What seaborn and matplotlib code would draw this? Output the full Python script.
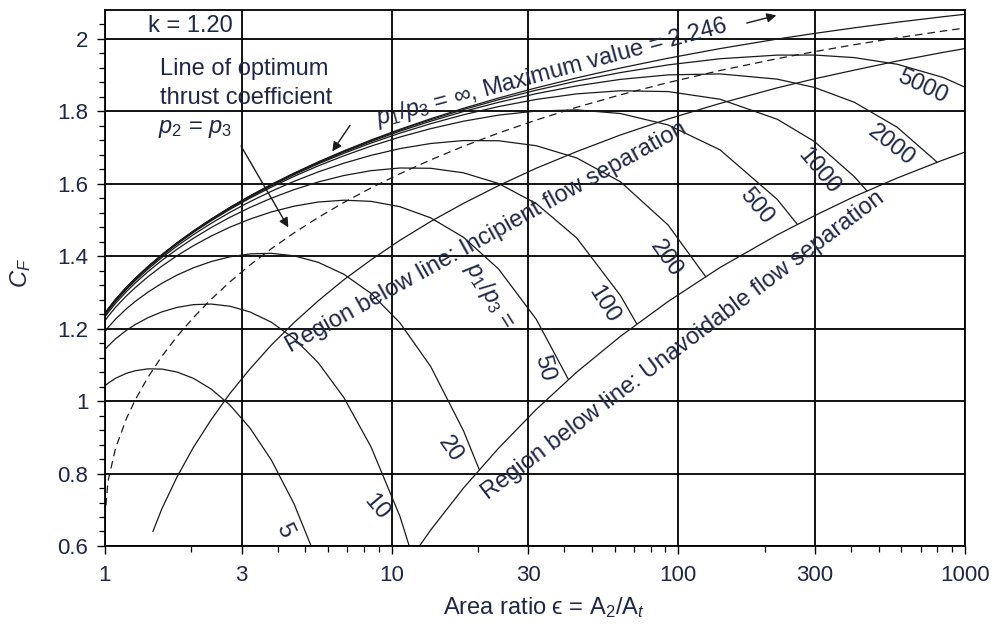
import numpy as np
import pandas as pd
import matplotlib
matplotlib.use("Agg")
import matplotlib.pyplot as plt
import seaborn as sns
from matplotlib.ticker import FixedLocator, NullFormatter

# ---------------- data (k = 1.20) ----------------
eps_grid = [1.000, 1.024, 1.089, 1.190, 1.278, 1.412, 1.578, 1.782, 2.034, 2.344,
            2.727, 3.206, 3.807, 4.569, 5.545, 6.811, 8.472, 10.685, 13.680, 17.805,
            23.602, 31.932, 44.211, 62.843, 92.081, 139.79, 221.36, 298.65, 411.30,
            579.93, 840.07, 1094.1]

cf_inf = [1.2419, 1.2538, 1.2810, 1.3150, 1.3396, 1.3715, 1.4041, 1.4369, 1.4698, 1.5024,
          1.5348, 1.5668, 1.5985, 1.6297, 1.6606, 1.6910, 1.7210, 1.7506, 1.7797, 1.8085,
          1.8369, 1.8649, 1.8926, 1.9198, 1.9468, 1.9734, 1.9997, 2.0153, 2.0308, 2.0462,
          2.0615, 2.0716]

cf_opt = [0.6774, 0.7782, 0.8701, 0.9531, 1.0047, 1.0657, 1.1233, 1.1781, 1.2305, 1.2808,
          1.3291, 1.3758, 1.4209, 1.4646, 1.5071, 1.5484, 1.5886, 1.6278, 1.6661, 1.7036,
          1.7402, 1.7761, 1.8113, 1.8458, 1.8796, 1.9129, 1.9456, 1.9650, 1.9842, 2.0031,
          2.0219, 2.0344]

incip_eps = [1.47, 1.578, 1.782, 2.034, 2.344, 2.727, 3.206, 3.807, 4.569, 5.545, 6.811,
             8.472, 10.685, 13.680, 17.805, 23.602, 31.932, 44.211, 62.843, 92.081, 139.79,
             221.36, 298.65, 411.30, 579.93, 840.07, 1094.1]
incip_cf = [0.640, 0.702, 0.790, 0.872, 0.948, 1.021, 1.089, 1.155, 1.217, 1.277, 1.335,
            1.390, 1.444, 1.496, 1.546, 1.595, 1.643, 1.689, 1.735, 1.779, 1.822,
            1.865, 1.890, 1.914, 1.939, 1.963, 1.979]

unavoid_eps = [10.685, 13.680, 17.805, 23.602, 31.932, 44.211, 62.843, 92.081, 139.79,
               221.36, 298.65, 411.30, 579.93, 840.07, 1094.1]
unavoid_cf = [0.523, 0.644, 0.760, 0.870, 0.977, 1.080, 1.179, 1.275, 1.369,
              1.459, 1.512, 1.565, 1.616, 1.666, 1.699]

ratios = [5, 10, 20, 50, 100, 200, 500, 1000, 2000, 5000]
cf_p5 = [1.0419, 1.0490, 1.0632, 1.0770, 1.0840, 1.0891, 1.0885, 1.0805, 1.0630, 1.0336,
         0.9894, 0.9256, 0.8371, 0.7159, 0.5516]
cf_p10 = [1.1419, 1.1514, 1.1721, 1.1960, 1.2118, 1.2303, 1.2463, 1.2587, 1.2664, 1.2680,
          1.2621, 1.2462, 1.2178, 1.1728, 1.1061, 1.0099, 0.8738, 0.6821, 0.4117]
cf_p20 = [1.1919, 1.2026, 1.2265, 1.2555, 1.2757, 1.3009, 1.3252, 1.3478, 1.3681, 1.3852,
          1.3984, 1.4065, 1.4081, 1.4012, 1.3833, 1.3504, 1.2974, 1.2163, 1.0957, 0.9182]
cf_p50 = [1.2219, 1.2333, 1.2592, 1.2912, 1.3140, 1.3433, 1.3725, 1.4013, 1.4291, 1.4555,
          1.4803, 1.5027, 1.5224, 1.5383, 1.5497, 1.5548, 1.5516, 1.5369, 1.5061, 1.4524,
          1.3649, 1.2263]
cf_p100 = [1.2319, 1.2436, 1.2701, 1.3031, 1.3268, 1.3574, 1.3883, 1.4191, 1.4495, 1.4790,
           1.5075, 1.5347, 1.5604, 1.5840, 1.6051, 1.6229, 1.6363, 1.6437, 1.6429, 1.6304,
           1.6009, 1.5456, 1.4505, 1.2914]
cf_p200 = [1.2369, 1.2487, 1.2756, 1.3090, 1.3332, 1.3644, 1.3962, 1.4280, 1.4596, 1.4907,
           1.5212, 1.5508, 1.5795, 1.6069, 1.6329, 1.6569, 1.6786, 1.6972, 1.7113, 1.7195,
           1.7189, 1.7052, 1.6715, 1.6056, 1.4864]
cf_p500 = [1.2399, 1.2518, 1.2788, 1.3126, 1.3370, 1.3687, 1.4009, 1.4333, 1.4657, 1.4977,
           1.5293, 1.5604, 1.5909, 1.6206, 1.6495, 1.6774, 1.7041, 1.7292, 1.7523, 1.7729,
           1.7897, 1.8010, 1.8042, 1.7941, 1.7626, 1.6938, 1.5570]
cf_p1000 = [1.2409, 1.2528, 1.2799, 1.3138, 1.3383, 1.3701, 1.4025, 1.4351, 1.4678, 1.5001,
            1.5321, 1.5636, 1.5947, 1.6251, 1.6551, 1.6842, 1.7125, 1.7399, 1.7660, 1.7907,
            1.8133, 1.8330, 1.8484, 1.8570, 1.8547, 1.8336, 1.7783, 1.7166, 1.6195]
cf_p2000 = [1.2414, 1.2533, 1.2805, 1.3144, 1.3390, 1.3708, 1.4033, 1.4360, 1.4688, 1.5012,
            1.5334, 1.5652, 1.5966, 1.6274, 1.6578, 1.6876, 1.7168, 1.7453, 1.7729, 1.7996,
            1.8251, 1.8489, 1.8705, 1.8884, 1.9008, 1.9035, 1.8890, 1.8660, 1.8251, 1.7562]
cf_p5000 = [1.2417, 1.2536, 1.2808, 1.3148, 1.3393, 1.3712, 1.4038, 1.4365, 1.4694, 1.5019,
            1.5343, 1.5662, 1.5977, 1.6288, 1.6595, 1.6896, 1.7193, 1.7485, 1.7770, 1.8049,
            1.8322, 1.8585, 1.8838, 1.9072, 1.9284, 1.9454, 1.9554, 1.9556, 1.9485, 1.9302,
            1.8935, 1.8528]
# end points where each curve meets the "unavoidable separation" line
end_eps = [None, None, 20.218, 41.370, 71.593, 124.47, 259.97, 455.35, 799.46, None]
end_cf = [None, None, 0.8107, 1.0597, 1.2134, 1.3439, 1.4882, 1.5801, 1.6598, None]

ratio_labels = ["5", "10", "20", "50", "100", "200", "500", "1000", "2000", "5000"]
label_eps = [4.24, 8.87, 15.96, 34.1, 55.1, 90.7, 186.5, 309.0, 553.0, 708.0]
label_cf = [0.644, 0.708, 0.868, 1.092, 1.268, 1.393, 1.539, 1.636, 1.705, 1.868]
label_rot = [-65, -50, -55, -75, -58, -55, -50, -50, -38, -25]

x_ticks = [1, 3, 10, 30, 100, 300, 1000]
x_ticklabels = ["1", "3", "10", "30", "100", "300", "1000"]
y_ticks = [0.6, 0.8, 1.0, 1.2, 1.4, 1.6, 1.8, 2.0]
y_ticklabels = ["0.6", "0.8", "1", "1.2", "1.4", "1.6", "1.8", "2"]

# ---------------- build long table ----------------
family_vals = [cf_p5, cf_p10, cf_p20, cf_p50, cf_p100, cf_p200, cf_p500, cf_p1000,
               cf_p2000, cf_p5000]
rows = []
for r, vals, ee, ec in zip(ratios, family_vals, end_eps, end_cf):
    xs = list(eps_grid[:len(vals)])
    ys = list(vals)
    if ee is not None:
        xs.append(ee)
        ys.append(ec)
    rows.append(pd.DataFrame({"eps": xs, "cf": ys, "curve": f"p{r}"}))
rows.append(pd.DataFrame({"eps": eps_grid, "cf": cf_inf, "curve": "inf"}))
rows.append(pd.DataFrame({"eps": incip_eps, "cf": incip_cf, "curve": "incip"}))
rows.append(pd.DataFrame({"eps": unavoid_eps, "cf": unavoid_cf, "curve": "unavoid"}))
df = pd.concat(rows, ignore_index=True)
df_opt = pd.DataFrame({"eps": eps_grid, "cf": cf_opt})

# ---------------- style ----------------
sns.set_style("ticks")
plt.rcParams["font.family"] = ["Liberation Sans", "DejaVu Sans"]
plt.rcParams["mathtext.fontset"] = "custom"
plt.rcParams["mathtext.rm"] = "Liberation Sans"
plt.rcParams["mathtext.it"] = "Liberation Sans:italic"
plt.rcParams["mathtext.bf"] = "Liberation Sans:bold"
TXT = "#1f2746"
LINE = "#1a1a1a"

fig = plt.figure(figsize=(9.92, 6.28), dpi=100)
ax = fig.add_axes([0.1058, 0.1306, 0.867, 0.8535])
ax.set_xscale("log")

sns.lineplot(data=df, x="eps", y="cf", units="curve", estimator=None, sort=False,
             color=LINE, linewidth=0.9, ax=ax, legend=False)
sns.lineplot(data=df_opt, x="eps", y="cf", estimator=None, sort=False,
             color=LINE, linewidth=0.9, linestyle=(0, (6, 4)), ax=ax, legend=False)

ax.set_xlim(1, 1000)
ax.set_ylim(0.6, 2.08)

ax.xaxis.set_major_locator(FixedLocator(x_ticks))
ax.set_xticklabels(x_ticklabels)
minor_x = [m * d for d in (1, 10, 100) for m in (2, 4, 5, 6, 7, 8, 9)]
ax.xaxis.set_minor_locator(FixedLocator(minor_x))
ax.xaxis.set_minor_formatter(NullFormatter())
ax.yaxis.set_major_locator(FixedLocator(y_ticks))
ax.set_yticklabels(y_ticklabels)
ax.yaxis.set_minor_locator(FixedLocator(list(np.arange(0.64, 2.08, 0.04))))

ax.tick_params(which="major", direction="out", length=6, width=1.0, colors="black",
               labelcolor=TXT, labelsize=16, pad=6)
ax.tick_params(axis="x", which="major", pad=8)
ax.tick_params(which="minor", direction="out", length=4, width=0.9, colors="black")
ax.grid(True, which="major", color="black", linewidth=1.3)
ax.grid(False, which="minor")
for s in ax.spines.values():
    s.set_color("black")
    s.set_linewidth(1.3)

ax.set_xlabel("Area ratio ϵ = A$_2$/A$_t$", fontsize=17, color=TXT)
ax.xaxis.set_label_coords(0.51, -0.092)
ax.set_ylabel(r"$C_F$", fontsize=17, color=TXT)
ax.yaxis.set_label_coords(-0.084, 0.51)

# ---------------- annotations ----------------
FS = 17
ax.text(1.98, 2.035, "k = 1.20", fontsize=FS, color=TXT, ha="center", va="center")
ax.text(1.555, 1.918, "Line of optimum", fontsize=FS, color=TXT, ha="left", va="center")
ax.text(1.555, 1.838, "thrust coefficient", fontsize=FS, color=TXT, ha="left", va="center")
ax.text(1.53, 1.752, r"$p_2$ = $p_3$", fontsize=FS, color=TXT, ha="left", va="center")
ax.annotate("", xy=(4.41, 1.473), xytext=(2.95, 1.711),
            arrowprops=dict(arrowstyle="-|>", color=LINE, lw=1.0, mutation_scale=14))

ax.text(36.3, 1.907, r"$p_1$/$p_3$ = ∞, Maximum value = 2.246", fontsize=FS, color=TXT,
        ha="center", va="center", rotation=15, rotation_mode="anchor")
ax.annotate("", xy=(6.13, 1.683), xytext=(7.25, 1.768),
            arrowprops=dict(arrowstyle="-|>", color=LINE, lw=1.0, mutation_scale=14))
ax.annotate("", xy=(224.6, 2.067), xytext=(169.6, 2.042),
            arrowprops=dict(arrowstyle="-|>", color=LINE, lw=1.0, mutation_scale=14))

for lab, xe, yc, rot in zip(ratio_labels, label_eps, label_cf, label_rot):
    ax.text(xe, yc, lab, fontsize=FS, color=TXT, ha="center", va="center",
            rotation=rot, rotation_mode="anchor")
ax.text(22.0, 1.290, r"$p_1$/$p_3$ =", fontsize=FS, color=TXT, ha="center", va="center",
        rotation=-58, rotation_mode="anchor")

ax.text(21.4, 1.452, "Region below line: Incipient flow separation", fontsize=FS, color=TXT,
        ha="center", va="center", rotation=29, rotation_mode="anchor")
ax.text(104.0, 1.155, "Region below line: Unavoidable flow separation", fontsize=FS,
        color=TXT, ha="center", va="center", rotation=37, rotation_mode="anchor")

fig.savefig("out.png", dpi=100)
